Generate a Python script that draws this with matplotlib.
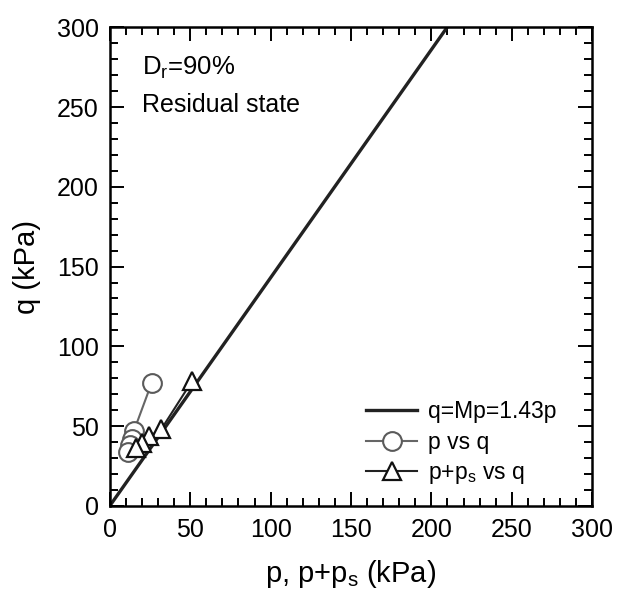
import matplotlib.pyplot as plt
import numpy as np
from matplotlib.ticker import MultipleLocator

plt.rcParams['font.family'] = ['Liberation Sans', 'DejaVu Sans']
plt.rcParams['mathtext.fontset'] = 'custom'
plt.rcParams['mathtext.rm'] = 'Liberation Sans'
plt.rcParams['mathtext.it'] = 'Liberation Sans'

# data
p = [26, 15, 14, 12.5, 11.5]
q_p = [77, 47, 42, 38, 34]
p_ps = [51, 32, 24.5, 20, 16]
q_ps = [78, 48, 43.5, 39.5, 36]
M = 1.43
line_p = [0, 210]

fig = plt.figure(figsize=(6.24, 5.93), dpi=100)
ax = fig.add_axes([0.176, 0.147, 0.773, 0.807])

ax.plot(line_p, [M * v for v in line_p], color="#222222", lw=2.4, label="q=Mp=1.43p")
ax.plot(p, q_p, color="#666666", lw=1.5, marker="o", ms=13.5, mfc="white",
        mec="#5a5a5a", mew=1.5, label="p vs q")
ax.plot(p_ps, q_ps, color="#222222", lw=1.5, marker="^", ms=13, mfc="white",
        mec="#111111", mew=1.6, label="p+p$_\\mathregular{s}$ vs q")

ax.set_xlim(0, 300)
ax.set_ylim(0, 300)
ax.xaxis.set_major_locator(MultipleLocator(50))
ax.yaxis.set_major_locator(MultipleLocator(50))
ax.xaxis.set_minor_locator(MultipleLocator(10))
ax.yaxis.set_minor_locator(MultipleLocator(10))
ax.tick_params(which="both", direction="in", top=True, right=True, width=1.4, labelsize=18)
ax.tick_params(axis="x", which="major", pad=9)
ax.tick_params(axis="y", which="major", pad=8)
ax.tick_params(which="major", length=10)
ax.tick_params(which="minor", length=5.5)
for s in ax.spines.values():
    s.set_linewidth(1.8)

ax.set_xlabel("p, p+p$_\\mathregular{s}$ (kPa)", fontsize=21, labelpad=11)
ax.set_ylabel("q (kPa)", fontsize=21, labelpad=11)

ax.text(0.066, 0.9, "D$_\\mathregular{r}$=90%", transform=ax.transAxes, fontsize=18.5, va="baseline")
ax.text(0.066, 0.822, "Residual state", transform=ax.transAxes, fontsize=18, va="baseline")

leg = ax.legend(loc="center left", frameon=False, fontsize=16.5, handlelength=2.2,
                handletextpad=0.5, borderpad=0, borderaxespad=0,
                bbox_to_anchor=(0.532, 0.131), labelspacing=0.32)

fig.savefig("out.png", dpi=100)
